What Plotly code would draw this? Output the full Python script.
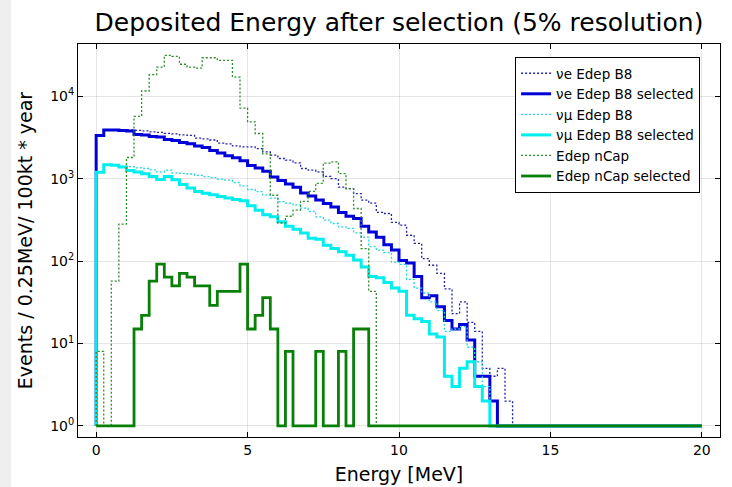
import numpy as np
import plotly.graph_objects as go

# ---- data (events per 0.25 MeV bin, 0..20 MeV, 80 bins; empty bins drawn at 1) ----
bin_edges = np.linspace(0.0, 20.0, 81)
baseline = 1

ve_all = [3400, 3950, 3950, 3950, 3900, 3870, 3800, 3700, 3650, 3550,
          3500, 3400, 3350, 3100, 3050, 2950, 2700, 2650, 2500, 2430,
          2430, 2320, 2120, 1930, 1760, 1680, 1560, 1330, 1270, 1210,
          1070, 1000, 790, 760, 660, 550, 505, 390, 378, 295,
          273, 206, 164, 107, 89, 71, 46, 23, 32, 18,
          14, 5, 4, 5, 2, 1, 1, 1, 1, 1,
          1, 1, 1, 1, 1, 1, 1, 1, 1, 1,
          1, 1, 1, 1, 1, 1, 1, 1, 1, 1]

ve_sel = [3350, 3900, 3900, 3850, 3800, 3450, 3400, 3250, 3200, 3000,
          2900, 2750, 2650, 2500, 2400, 2200, 2050, 1900, 1800, 1650,
          1450, 1350, 1230, 1050, 950, 860, 790, 670, 615, 550,
          500, 455, 390, 350, 330, 265, 225, 195, 158, 136,
          102, 95, 65, 36, 38, 28, 19, 15, 17, 11,
          4, 4, 2, 1, 1, 1, 1, 1, 1, 1,
          1, 1, 1, 1, 1, 1, 1, 1, 1, 1,
          1, 1, 1, 1, 1, 1, 1, 1, 1, 1]

vmu_all = [1200, 1480, 1460, 1420, 1400, 1350, 1330, 1280, 1210, 1270,
           1180, 1160, 1140, 1100, 1060, 1030, 990, 960, 900, 820,
           740, 697, 635, 580, 527, 505, 480, 440, 400, 345,
           315, 286, 260, 249, 220, 195, 150, 136, 127, 97,
           91, 60, 47, 41, 32, 25, 14, 15, 16, 9,
           6, 3, 1, 1, 1, 1, 1, 1, 1, 1,
           1, 1, 1, 1, 1, 1, 1, 1, 1, 1,
           1, 1, 1, 1, 1, 1, 1, 1, 1, 1]

vmu_sel = [1200, 1480, 1460, 1390, 1260, 1210, 1150, 1060, 980, 1060,
           970, 850, 770, 700, 665, 640, 610, 585, 560, 540,
           470, 415, 365, 345, 300, 265, 243, 220, 190, 184,
           156, 142, 130, 118, 103, 85, 65, 63, 55, 47,
           43, 22, 20, 18.5, 13, 12, 4, 3, 5, 6,
           3, 2, 1, 1, 1, 1, 1, 1, 1, 1,
           1, 1, 1, 1, 1, 1, 1, 1, 1, 1,
           1, 1, 1, 1, 1, 1, 1, 1, 1, 1]

ncap_all = [8, 1, 57, 281, 1810, 5700, 11600, 18300, 22600, 31400,
            30500, 24500, 22600, 22000, 29400, 29400, 27300, 27300, 17100, 7200,
            4900, 3540, 2000, 630, 290, 350, 415, 530, 700, 880,
            1550, 1600, 1150, 760, 435, 142, 43, 1, 1, 1,
            1, 1, 1, 1, 1, 1, 1, 1, 1, 1,
            1, 1, 1, 1, 1, 1, 1, 1, 1, 1,
            1, 1, 1, 1, 1, 1, 1, 1, 1, 1,
            1, 1, 1, 1, 1, 1, 1, 1, 1, 1]

ncap_sel = [1, 1, 1, 1, 1, 15, 22, 57, 92, 64,
            50, 71, 64, 50, 50, 29, 43, 43, 43, 92,
            15, 22, 36, 15, 1, 8, 1, 1, 1, 8,
            1, 1, 8, 1, 15, 15, 1, 1, 1, 1,
            1, 1, 1, 1, 1, 1, 1, 1, 1, 1,
            1, 1, 1, 1, 1, 1, 1, 1, 1, 1,
            1, 1, 1, 1, 1, 1, 1, 1, 1, 1,
            1, 1, 1, 1, 1, 1, 1, 1, 1, 1]

series_names = ["\u03bde Edep B8", "\u03bde Edep B8 selected",
                "\u03bd\u03bc Edep B8", "\u03bd\u03bc Edep B8 selected",
                "Edep nCap", "Edep nCap selected"]
series_values = [ve_all, ve_sel, vmu_all, vmu_sel, ncap_all, ncap_sel]
series_colors = ["#2323a8", "#0000d8", "#22d8d8", "#00eeee", "#2e8b2e", "#088008"]
series_widths = [1.3, 3, 1.3, 3, 1.3, 2.8]
series_dash = ["2px,2px", "solid", "2px,2px", "solid", "2px,2px", "solid"]

x_tick_vals = [0, 5, 10, 15, 20]
y_tick_vals = [1, 10, 100, 1000, 10000]
y_tick_text = ["10<sup>0</sup>", "10<sup>1</sup>", "10<sup>2</sup>",
               "10<sup>3</sup>", "10<sup>4</sup>"]

FONT = "DejaVu Sans"


def step_xy(counts):
    x = [bin_edges[0]] + list(bin_edges[:-1]) + [bin_edges[-1]]
    y = [baseline] + list(counts) + [counts[-1]]
    return x, y


fig = go.Figure()
for name, vals, col, w, d in zip(series_names, series_values, series_colors,
                                 series_widths, series_dash):
    xs, ys = step_xy(vals)
    fig.add_trace(go.Scatter(x=xs, y=ys, mode="lines", name=name,
                             line=dict(color=col, width=w, dash=d, shape="hv")))

axis_common = dict(
    showline=True, linecolor="black", linewidth=1, mirror="ticks",
    ticks="inside", ticklen=5, tickcolor="black", tickwidth=1,
    showgrid=True, gridcolor="rgba(0,0,0,0.1)", gridwidth=1,
    zeroline=False, automargin=False,
    tickfont=dict(family=FONT, size=14, color="black"),
)

fig.update_layout(
    width=732, height=487,
    margin=dict(l=78, r=12, t=44, b=50),
    paper_bgcolor="white", plot_bgcolor="white",
    font=dict(family=FONT, color="black"),
    title=dict(text="Deposited Energy after selection (5% resolution)",
               x=0.5, xref="paper", xanchor="center",
               y=0.955, yref="container", yanchor="middle",
               font=dict(family=FONT, size=25, color="black")),
    xaxis=dict(range=[-0.6, 20.6], tickvals=x_tick_vals,
               title=dict(text="Energy [MeV]", font=dict(family=FONT, size=19),
                          standoff=10),
               **axis_common),
    yaxis=dict(type="log", range=[-0.135, 4.635], tickvals=y_tick_vals,
               ticktext=y_tick_text,
               title=dict(text="Events / 0.25MeV/ 100kt * year",
                          font=dict(family=FONT, size=19), standoff=12),
               **axis_common),
    legend=dict(x=0.969, y=0.967, xanchor="right", yanchor="top",
                bgcolor="white", bordercolor="black", borderwidth=1,
                font=dict(family=FONT, size=13.5, color="black"),
                tracegroupgap=0),
    shapes=[dict(type="rect", xref="paper", yref="paper",
                 x0=-0.1215, x1=-0.1044, y0=-0.13, y1=1.12,
                 fillcolor="#efefef", line=dict(width=0), layer="below")],
)

fig.write_html("out.html")
